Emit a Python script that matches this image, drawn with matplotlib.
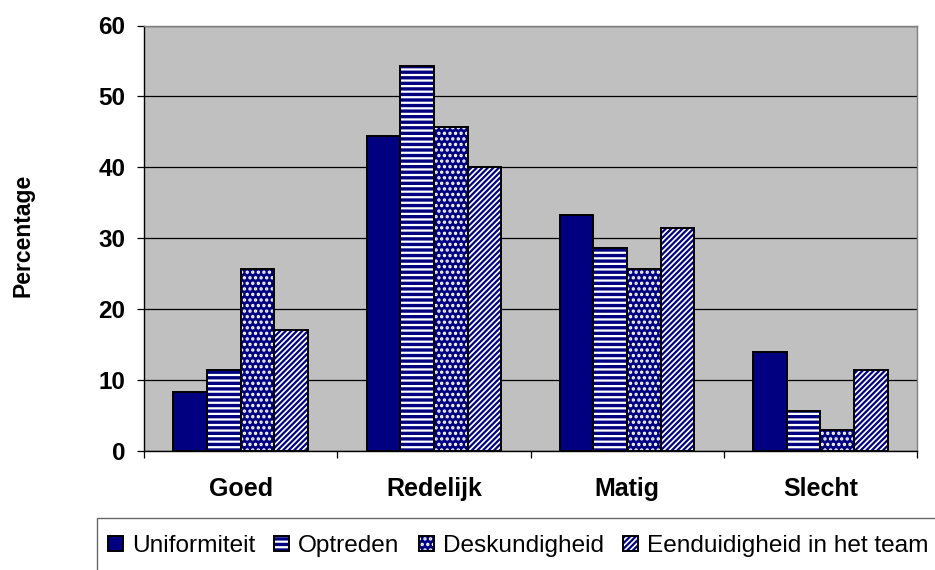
import matplotlib
matplotlib.use("Agg")
import matplotlib.pyplot as plt
from matplotlib.patches import Rectangle
import numpy as np

plt.rcParams['font.family'] = ['Liberation Sans', 'DejaVu Sans']
plt.rcParams['hatch.linewidth'] = 1.6

categories = ["Goed", "Redelijk", "Matig", "Slecht"]
series_names = ["Uniformiteit", "Optreden", "Deskundigheid", "Eenduidigheid in het team"]
uniformiteit = [8.3, 44.4, 33.3, 13.9]
optreden = [11.4, 54.3, 28.6, 5.7]
deskundigheid = [25.7, 45.7, 25.7, 2.9]
eenduidigheid = [17.1, 40.0, 31.4, 11.4]
yticks = [0, 10, 20, 30, 40, 50, 60]

series = [uniformiteit, optreden, deskundigheid, eenduidigheid]
NAVY = "#000080"
# (facecolor, hatchcolor, hatch)
styles = [
    (NAVY, NAVY, None),
    (NAVY, "white", "---"),
    (NAVY, "white", "..."),
    ("white", NAVY, "//////"),
]

W, H = 935, 570
fig = plt.figure(figsize=(W / 100, H / 100), dpi=100)
ax = fig.add_axes([144 / W, 1 - 451 / H, (917 - 144) / W, (451 - 25.5) / H])
ax.set_facecolor("#C0C0C0")

ncat = len(categories)
centers = np.arange(ncat) + 0.5
bw = 0.174
handles = []
for i, (vals, (fc, hc, hatch)) in enumerate(zip(series, styles)):
    x = centers + (i - 1.5) * bw
    b1 = ax.bar(x, vals, width=bw, color=fc, edgecolor=hc, linewidth=0,
                hatch=hatch, zorder=3)
    b2 = ax.bar(x, vals, width=bw, fill=False, edgecolor="black",
                linewidth=1.4, zorder=4)
    handles.append((b1[0], b2[0]))

ax.set_xlim(0, ncat)
ax.set_ylim(0, 60)
ax.set_yticks(yticks)
ax.set_yticklabels([str(t) for t in yticks], fontsize=17.5, fontweight="bold")
ax.tick_params(axis="y", length=5, width=0.9, pad=8.5, color="black")
ax.set_xticks(np.arange(ncat + 1))
ax.set_xticklabels([])
ax.set_xticks(centers, minor=True)
ax.set_xticklabels(categories, minor=True, fontsize=18, fontweight="bold")
ax.tick_params(axis="x", which="major", length=5, width=0.9, direction="out")
ax.tick_params(axis="x", which="minor", length=0, pad=18.5)

ax.yaxis.grid(True, color="black", linewidth=0.9, zorder=1)
ax.set_axisbelow(True)
for s in ["left", "bottom"]:
    ax.spines[s].set_color("black")
    ax.spines[s].set_linewidth(1.0)
for s in ["top", "right"]:
    ax.spines[s].set_color("#808080")
    ax.spines[s].set_linewidth(1.0)

fig.text(23 / W, 1 - 235 / H, "Percentage", rotation=90, fontsize=16.5,
         fontweight="bold", ha="center", va="center")

# legend frame (extends past the figure edge as in the reference)
fig.patches.append(Rectangle((97 / W, -0.2), 1.0, 1 - 518 / H + 0.2,
                             transform=fig.transFigure, fill=False,
                             edgecolor="#666666", linewidth=1.0))
fs = 17.6
px = fs * 100 / 72
fig.legend(handles, series_names, loc="center left",
           bbox_to_anchor=(108 / W, 1 - 546 / H), ncol=4, frameon=False,
           fontsize=fs, borderpad=0, borderaxespad=0,
           handlelength=15 / px, handleheight=15 / px,
           handletextpad=9 / px, columnspacing=19 / px)

fig.savefig("out.png", dpi=100)
